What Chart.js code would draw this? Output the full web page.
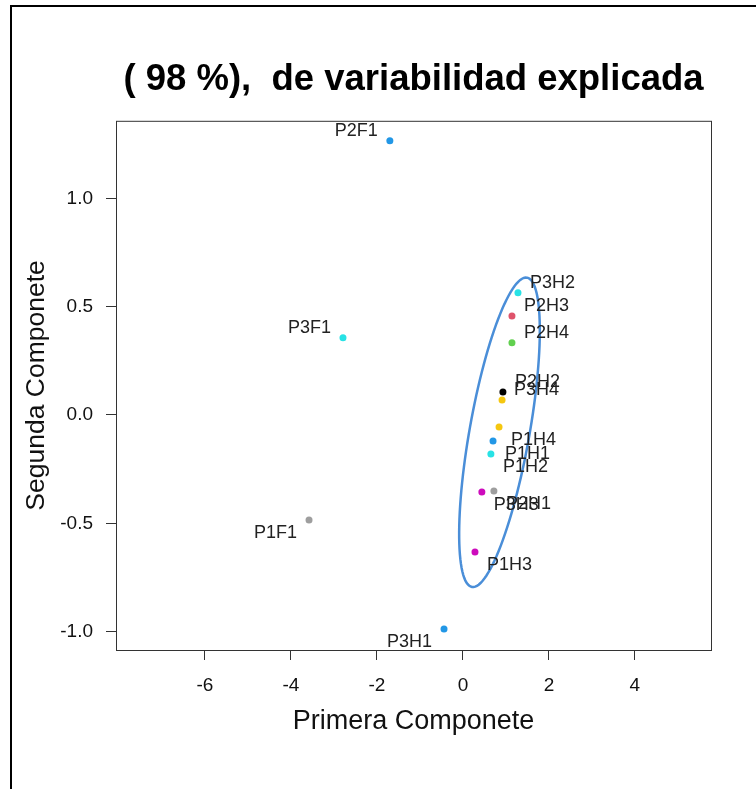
<!DOCTYPE html>
<html>
<head>
<meta charset="utf-8">
<script src="https://cdn.jsdelivr.net/npm/chart.js@4"></script>
<style>
  html, body { margin: 0; padding: 0; background: #fff; overflow: hidden; }
  #frame { position: absolute; left: 10px; top: 5px; width: 2000px; height: 2000px; border: 2px solid #000; }
  #wrap { position: absolute; left: 0; top: 0; width: 756px; height: 789px; }
</style>
</head>
<body>
<div id="frame"></div>
<div id="wrap"><canvas id="pca" width="756" height="789"></canvas></div>
<script>
// PCA scores: first and second component per sample
const pointNames = ["P1F1", "P1H1", "P1H2", "P1H3", "P1H4",
                    "P2F1", "P2H1", "P2H2", "P2H3", "P2H4",
                    "P3F1", "P3H1", "P3H2", "P3H3", "P3H4"];
const compX = [-3.58, 0.70, 0.65, 0.28, 0.84,
               -1.70, 0.72, 0.93, 1.14, 1.14,
               -2.79, -0.44, 1.28, 0.44, 0.91];
const compY = [-0.485, -0.120, -0.180, -0.633, -0.055,
               1.266, -0.351, 0.106, 0.457, 0.333,
               0.356, -0.988, 0.564, -0.356, 0.069];
const pointColors = ["#9E9E9E", "#2297E6", "#28E2E5", "#CD0BBC", "#F5C710",
                     "#2297E6", "#9E9E9E", "#000000", "#DF536B", "#61D04F",
                     "#28E2E5", "#2297E6", "#28E2E5", "#CD0BBC", "#F5C710"];
const xTicks = [-6, -4, -2, 0, 2, 4];
const yTicks = [-1.0, -0.5, 0.0, 0.5, 1.0];

// grouping ellipse around the H samples (center + two axis vectors, data units)
const ellipseCenter = [0.85, -0.08];
const ellipseMajor = [0.64, 0.714];
const ellipseMinor = [0.686, -0.024];

const FONT = "'Liberation Sans', Arial, sans-serif";

const boxPlugin = {
    id: "box",
    afterDraw(chart) {
        const { ctx, chartArea: a } = chart;
        ctx.save();
        ctx.strokeStyle = "#333";
        ctx.lineWidth = 1;
        ctx.strokeRect(a.left + 0.5, a.top + 0.5, a.right - a.left, a.bottom - a.top);
        ctx.restore();
    }
};

const ellipsePlugin = {
    id: "ellipse",
    afterDatasetsDraw(chart) {
        const { ctx, scales: { x, y } } = chart;
        ctx.save();
        ctx.strokeStyle = "#4a8ed8";
        ctx.lineWidth = 2.5;
        ctx.beginPath();
        for (let i = 0; i <= 120; i++) {
            const t = (i / 120) * Math.PI * 2;
            const dx = ellipseCenter[0] + Math.cos(t) * ellipseMajor[0] + Math.sin(t) * ellipseMinor[0];
            const dy = ellipseCenter[1] + Math.cos(t) * ellipseMajor[1] + Math.sin(t) * ellipseMinor[1];
            const px = x.getPixelForValue(dx);
            const py = y.getPixelForValue(dy);
            if (i === 0) ctx.moveTo(px, py); else ctx.lineTo(px, py);
        }
        ctx.closePath();
        ctx.stroke();
        ctx.restore();
    }
};

const labelPlugin = {
    id: "pointLabels",
    afterDatasetsDraw(chart) {
        const { ctx } = chart;
        const meta = chart.getDatasetMeta(0);
        ctx.save();
        ctx.font = "18px " + FONT;
        ctx.fillStyle = "#222";
        ctx.textBaseline = "middle";
        meta.data.forEach((pt, i) => {
            const right = compX[i] > 0;
            ctx.textAlign = right ? "left" : "right";
            const lx = pt.x + (right ? 12 : -12);
            const ly = pt.y + (compY[i] > 0 ? -10 : 13);
            ctx.fillText(pointNames[i], lx, ly);
        });
        ctx.restore();
    }
};

new Chart(document.getElementById("pca"), {
    type: "scatter",
    data: {
        datasets: [{
            data: compX.map((v, i) => ({ x: v, y: compY[i] })),
            backgroundColor: pointColors,
            borderWidth: 0,
            pointRadius: 3.5,
            pointHoverRadius: 3.5
        }]
    },
    options: {
        responsive: false,
        animation: false,
        layout: { padding: { left: 0, right: 45, top: 0, bottom: 0 } },
        plugins: {
            legend: { display: false },
            tooltip: { enabled: false },
            title: {
                display: true,
                fullSize: false,
                text: "( 98 %),  de variabilidad explicada",
                color: "#000",
                font: { family: FONT, size: 36.5, weight: "bold", lineHeight: 1.2 },
                padding: { top: 58, bottom: 19 }
            }
        },
        scales: {
            x: {
                type: "linear",
                min: -8.07,
                max: 5.77,
                afterBuildTicks: (s) => { s.ticks = xTicks.map(v => ({ value: v })); },
                afterFit: (s) => { s.height = 139; },
                border: { display: false },
                grid: { drawOnChartArea: false, tickLength: 10, color: "#333" },
                ticks: {
                    color: "#111",
                    padding: 14,
                    font: { family: FONT, size: 19 },
                    callback: (v) => String(v)
                },
                title: {
                    display: true,
                    text: "Primera Componete",
                    color: "#111",
                    font: { family: FONT, size: 27, lineHeight: 1.2 },
                    padding: { top: 0, bottom: 51 }
                }
            },
            y: {
                type: "linear",
                min: -1.085,
                max: 1.358,
                afterBuildTicks: (s) => { s.ticks = yTicks.map(v => ({ value: v })); },
                afterFit: (s) => { s.width = 116; },
                border: { display: false },
                grid: { drawOnChartArea: false, tickLength: 10, color: "#333" },
                ticks: {
                    color: "#111",
                    padding: 13,
                    font: { family: FONT, size: 19 },
                    callback: (v) => v.toFixed(1)
                },
                title: {
                    display: true,
                    text: "Segunda Componete",
                    color: "#111",
                    font: { family: FONT, size: 26.5, lineHeight: 1.2 },
                    padding: { top: 21, bottom: 0 }
                }
            }
        }
    },
    plugins: [boxPlugin, ellipsePlugin, labelPlugin]
});
</script>
</body>
</html>
